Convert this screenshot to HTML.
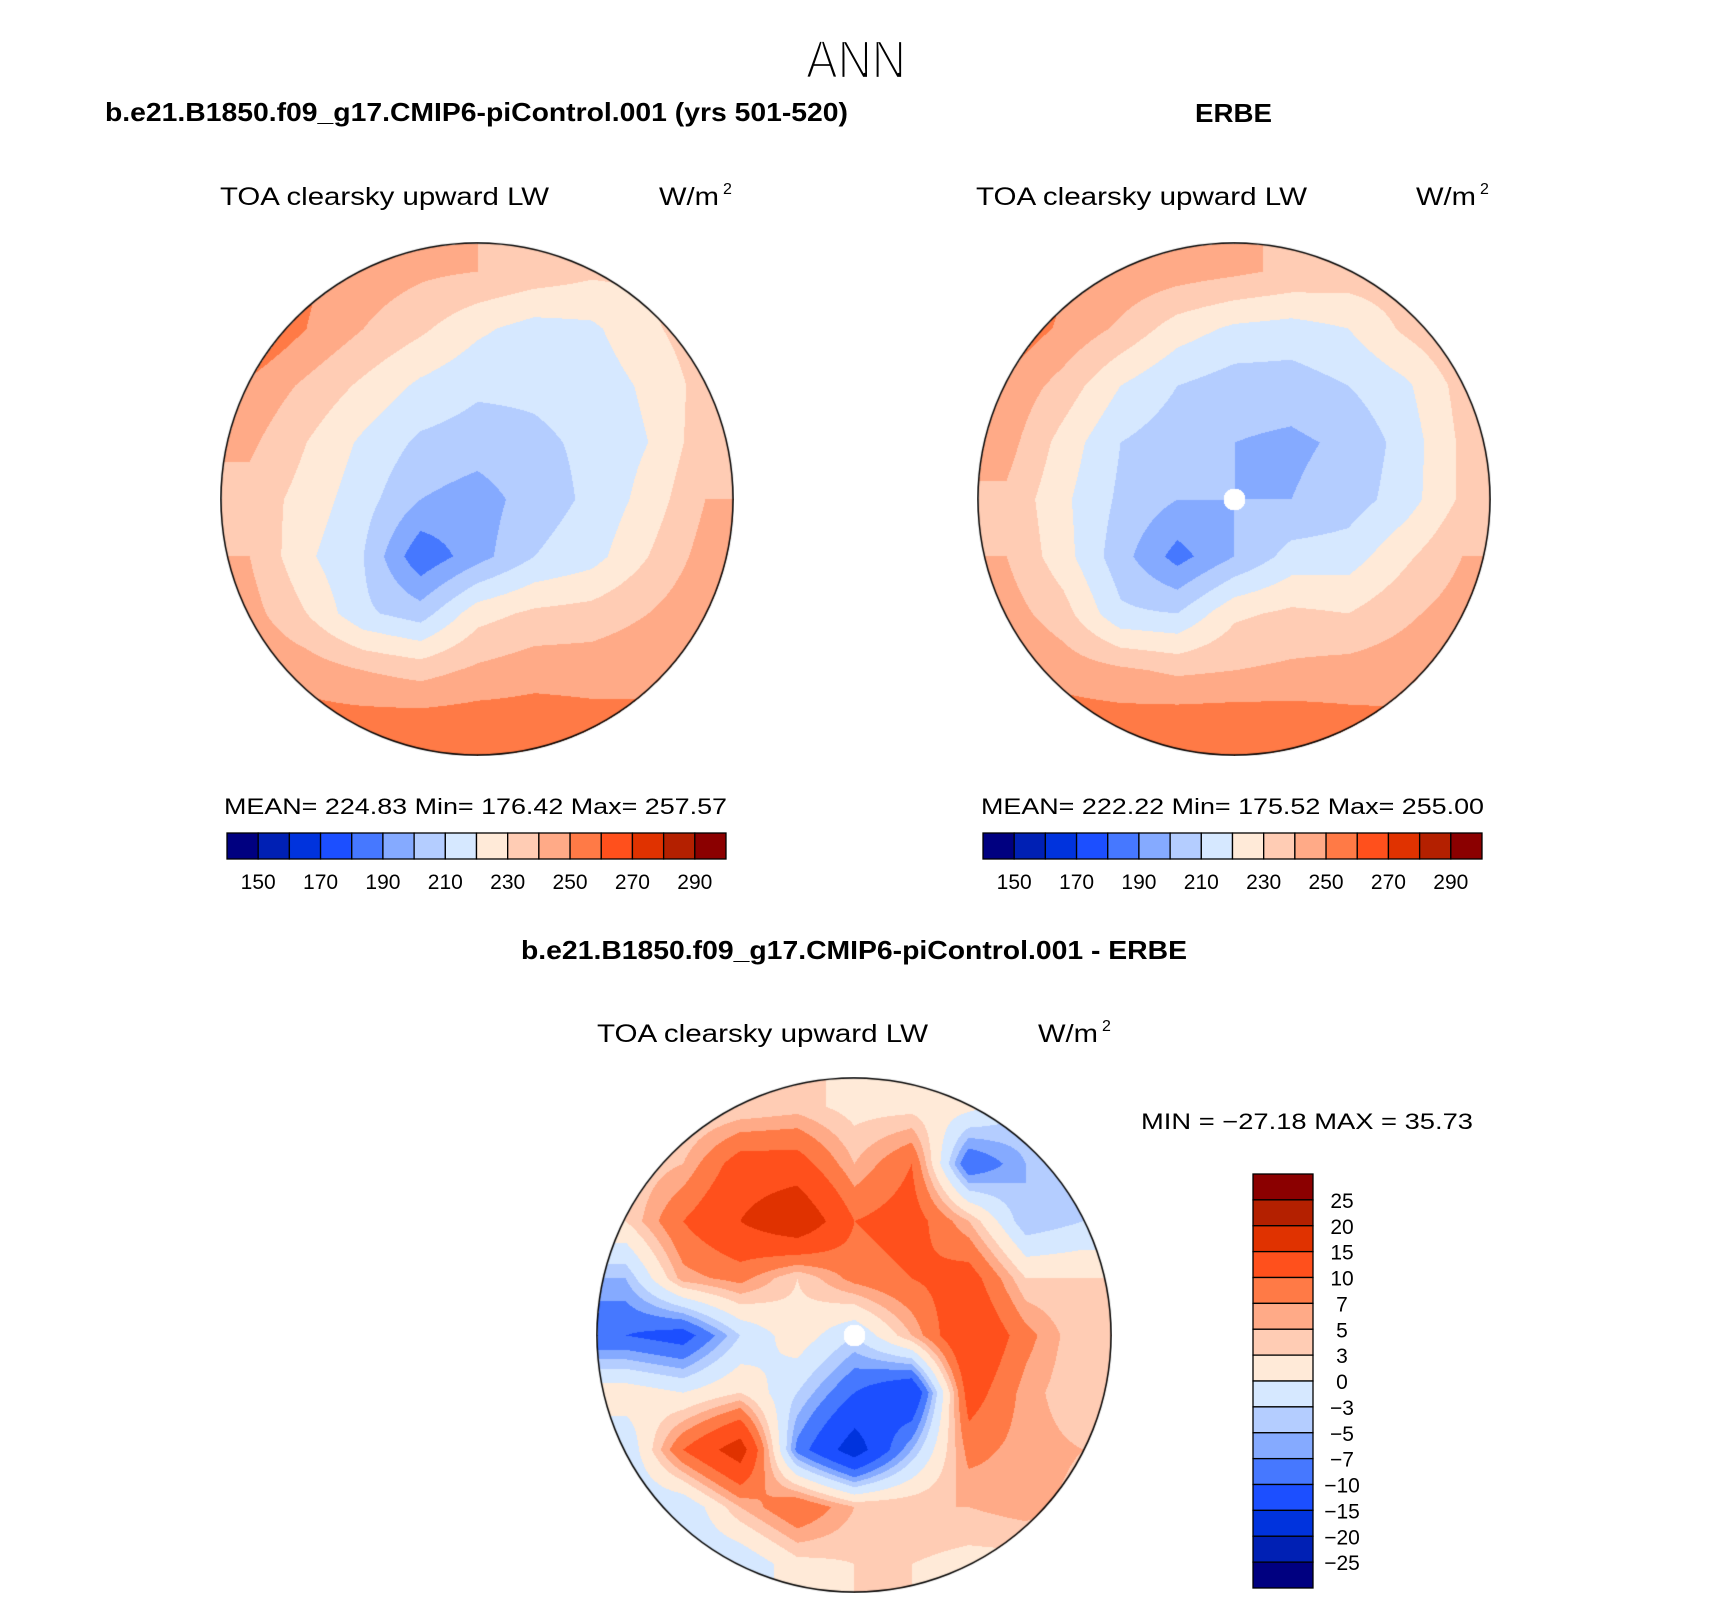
<!DOCTYPE html>
<html><head><meta charset="utf-8"><style>
body{margin:0;background:#fff;width:1710px;height:1599px;overflow:hidden;position:relative}
canvas{position:absolute}
svg{position:absolute;left:0;top:0}
text{font-family:"Liberation Sans",sans-serif;fill:#000}
</style></head><body>
<canvas id="m1" width="514" height="514" style="left:220px;top:242px"></canvas>
<canvas id="m2" width="514" height="514" style="left:977px;top:242px"></canvas>
<canvas id="m3" width="516" height="516" style="left:596px;top:1077px"></canvas>
<svg id="ov" width="1710" height="1599">
<text x="856" y="78" font-size="54" text-anchor="middle" stroke="#fff" stroke-width="2.2" paint-order="normal" textLength="100" lengthAdjust="spacingAndGlyphs">ANN</text>
<text x="105" y="121" font-size="26" font-weight="bold" textLength="743" lengthAdjust="spacingAndGlyphs">b.e21.B1850.f09_g17.CMIP6-piControl.001 (yrs 501-520)</text>
<text x="1195" y="122" font-size="26" font-weight="bold" textLength="77" lengthAdjust="spacingAndGlyphs">ERBE</text>
<text x="220" y="205" font-size="25" textLength="329" lengthAdjust="spacingAndGlyphs">TOA clearsky upward LW</text>
<text x="659" y="205" font-size="25" textLength="60" lengthAdjust="spacingAndGlyphs">W/m</text><text x="723" y="194" font-size="16">2</text>
<text x="976" y="205" font-size="25" textLength="331" lengthAdjust="spacingAndGlyphs">TOA clearsky upward LW</text>
<text x="1416" y="205" font-size="25" textLength="60" lengthAdjust="spacingAndGlyphs">W/m</text><text x="1480" y="194" font-size="16">2</text>
<text x="224" y="814" font-size="22" textLength="503" lengthAdjust="spacingAndGlyphs">MEAN= 224.83   Min= 176.42   Max= 257.57</text>
<text x="981" y="814" font-size="22" textLength="503" lengthAdjust="spacingAndGlyphs">MEAN= 222.22   Min= 175.52   Max= 255.00</text>
<text x="521" y="959" font-size="26" font-weight="bold" textLength="666" lengthAdjust="spacingAndGlyphs">b.e21.B1850.f09_g17.CMIP6-piControl.001 - ERBE</text>
<text x="597" y="1042" font-size="25" textLength="331" lengthAdjust="spacingAndGlyphs">TOA clearsky upward LW</text>
<text x="1038" y="1042" font-size="25" textLength="60" lengthAdjust="spacingAndGlyphs">W/m</text><text x="1102" y="1031" font-size="16">2</text>
<text x="1141" y="1129" font-size="22" textLength="332" lengthAdjust="spacingAndGlyphs">MIN = −27.18 MAX =   35.73</text>
<g id="cb"></g>
</svg>
<script>
const colors=['#000080','#0020b4','#0033dd','#1c4fff','#4678ff','#85aaff','#b4cdff','#d6e8ff','#ffead8','#ffccb4','#ffaa87','#ff7a46','#ff501c','#e03200','#b42000','#8b0000'];
const absLevels=[150,160,170,180,190,200,210,220,230,240,250,260,270,280,290];
const absTickLabels=['150','170','190','210','230','250','270','290'];
const diffLevels=[-25,-20,-15,-10,-7,-5,-3,0,3,5,7,10,15,20,25];
const diffTickLabels=['25','20','15','10','7','5','3','0','−3','−5','−7','−10','−15','−20','−25'];
const modelField=[
[258,252,246,242,240,236,232,232,236],
[262,250,240,232,222,216,218,228,236],
[248,238,228,218,212,212,214,222,234],
[242,230,218,208,205,208,212,220,236],
[236,226,214,200,195,205,212,224,240],
[240,222,210,182,196,210,216,230,244],
[244,230,212,205,226,232,234,240,248],
[250,246,240,236,242,246,246,248,252],
[254,255,256,257,257,256,254,252,250]];
const erbeField=[
[258,252,248,245,242,238,236,236,240],
[258,248,238,225,218,216,220,232,240],
[248,236,220,210,205,205,210,218,234],
[244,226,210,204,200,198,202,214,232],
[238,222,208,200,200,200,205,215,232],
[240,224,204,186,200,214,215,228,240],
[245,234,212,210,228,232,230,238,245],
[252,246,242,238,240,242,244,246,250],
[255,256,256,258,258,257,254,252,250]];
const diffField=[
[2,2,3,4,2,2,1,-3,-3],
[3,5,12,12,5,10,-10,-5,-3],
[3,10,15,20,10,12,5,-5,-3],
[-5,6,8,3,8,10,12,3,3],
[-10,-12,-3,2,-3,5,15,8,3],
[2,0,3,-3,-10,-15,12,6,3],
[-3,10,18,-8,-18,-5,8,6,5],
[-3,-3,5,10,5,5,5,6,4],
[-3,-3,-3,2,3,3,2,2,2]];

function levelIndex(v,levels){let i=0;while(i<levels.length&&v>=levels[i])i++;return i;}
function hex(c){return [parseInt(c.slice(1,3),16),parseInt(c.slice(3,5),16),parseInt(c.slice(5,7),16)];}
const rgb=colors.map(hex);
function drawMap(id,field,levels,hole){
  const cv=document.getElementById(id),ctx=cv.getContext('2d');
  const W=cv.width,r=W/2-1,c=W/2,n=field.length,sp=2*r/(n-1)*0.89;
  const img=ctx.createImageData(W,W);
  for(let y=0;y<W;y++)for(let x=0;x<W;x++){
    const dx=x-c,dy=y-c;if(dx*dx+dy*dy>r*r)continue;
    if(hole&&dx*dx+dy*dy<121){const k=(y*W+x)*4;img.data[k]=img.data[k+1]=img.data[k+2]=img.data[k+3]=255;continue;}
    let gx=Math.min(n-1,Math.max(0,dx/sp+(n-1)/2)),gy=Math.min(n-1,Math.max(0,dy/sp+(n-1)/2));
    const i0=Math.min(n-2,Math.floor(gx)),j0=Math.min(n-2,Math.floor(gy)),fx=gx-i0,fy=gy-j0;
    const v=field[j0][i0]*(1-fx)*(1-fy)+field[j0][i0+1]*fx*(1-fy)+field[j0+1][i0]*(1-fx)*fy+field[j0+1][i0+1]*fx*fy;
    const col=rgb[levelIndex(v,levels)],k=(y*W+x)*4;
    img.data[k]=col[0];img.data[k+1]=col[1];img.data[k+2]=col[2];img.data[k+3]=255;
  }
  ctx.putImageData(img,0,0);
  ctx.beginPath();ctx.arc(c,c,r,0,Math.PI*2);ctx.lineWidth=1.5;ctx.strokeStyle='#000';ctx.stroke();
}
drawMap('m1',modelField,absLevels,false);
drawMap('m2',erbeField,absLevels,true);
drawMap('m3',diffField,diffLevels,true);

const NS='http://www.w3.org/2000/svg',cb=document.getElementById('cb');
function hbar(x0,name){
  const y0=833,h=26,w=(726-227)/colors.length;
  colors.forEach((c,i)=>{
    const r=document.createElementNS(NS,'rect');
    r.setAttribute('x',x0+i*w);r.setAttribute('y',y0);r.setAttribute('width',w);r.setAttribute('height',h);
    r.setAttribute('fill',c);r.setAttribute('stroke','#000');r.setAttribute('stroke-width','1.3');
    
    
    cb.appendChild(r);
  });
  absTickLabels.forEach((t,k)=>{
    const tx=document.createElementNS(NS,'text');
    tx.setAttribute('x',x0+(1+2*k)*w);tx.setAttribute('y',889);tx.setAttribute('font-size','21');tx.setAttribute('text-anchor','middle');
    tx.textContent=t;
    
    
    cb.appendChild(tx);
  });
}
hbar(227,'model-colorbar');hbar(983,'erbe-colorbar');
(function(){
  const x0=1253,y0=1174,w=60,h=(1588-1174)/colors.length;
  for(let i=0;i<colors.length;i++){
    const r=document.createElementNS(NS,'rect');
    r.setAttribute('x',x0);r.setAttribute('y',y0+i*h);r.setAttribute('width',w);r.setAttribute('height',h);
    r.setAttribute('fill',colors[colors.length-1-i]);r.setAttribute('stroke','#000');r.setAttribute('stroke-width','1.3');
    
    
    cb.appendChild(r);
  }
  diffTickLabels.forEach((t,k)=>{
    const tx=document.createElementNS(NS,'text');
    tx.setAttribute('x',1342);tx.setAttribute('y',y0+(k+1)*h+8);tx.setAttribute('font-size','21');tx.setAttribute('text-anchor','middle');
    tx.textContent=t;
    
    
    cb.appendChild(tx);
  });
})();
</script>
</body></html>
